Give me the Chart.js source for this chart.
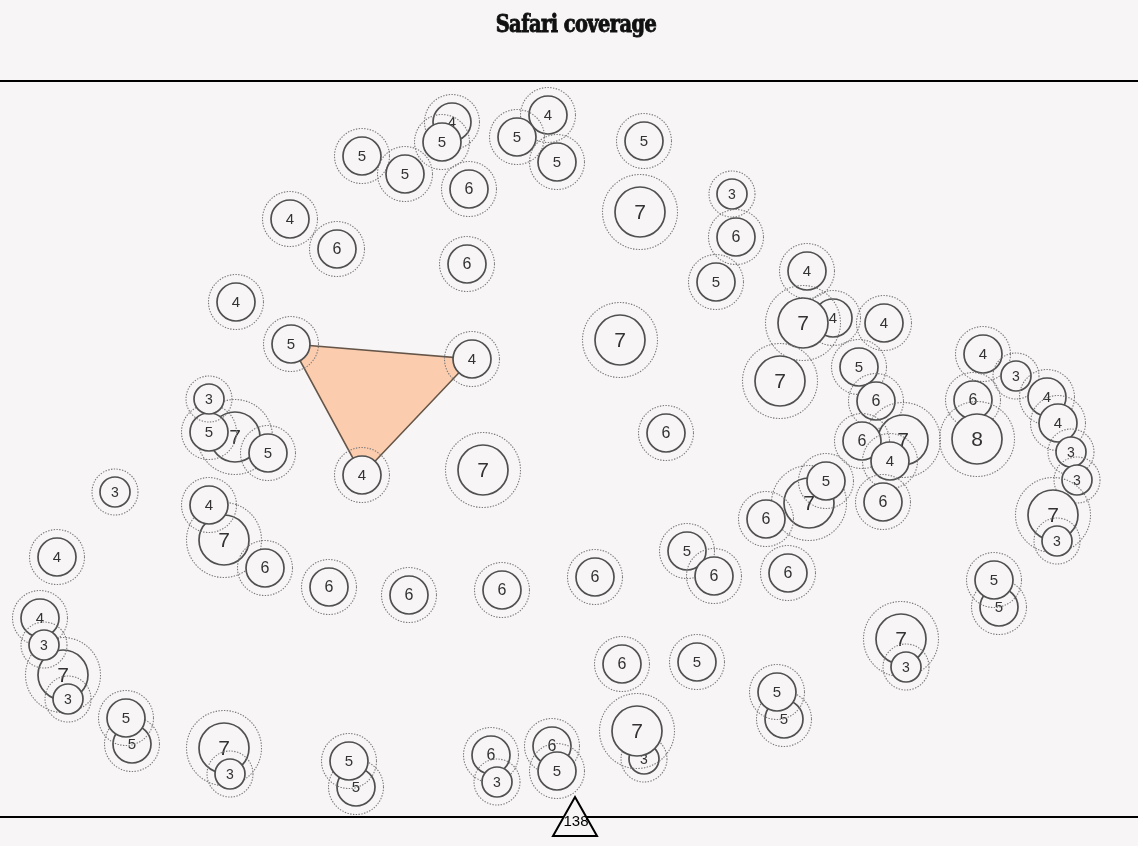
<!DOCTYPE html>
<html><head><meta charset="utf-8">
<script src="https://cdn.jsdelivr.net/npm/chart.js@4.4.0/dist/chart.umd.min.js"></script>
<style>
html,body{margin:0;padding:0;background:#f7f5f5;}
#wrap{position:relative;width:1138px;height:846px;overflow:hidden;}
#title{position:absolute;top:9px;left:576px;white-space:nowrap;transform:translateX(-50%) scaleX(0.86);transform-origin:center;font-family:"DejaVu Serif";font-weight:900;font-stretch:condensed;font-size:25px;color:#111;letter-spacing:-0.6px;-webkit-text-stroke:0.9px #111;}
canvas{position:absolute;left:0;top:0;}
</style></head>
<body>
<div id="wrap"><canvas id="c" width="1138" height="846"></canvas><div id="title">Safari coverage</div></div>
<script>
// node layout positions and node values, in draw order
const nodeX = [452,442,362,405,469,548,517,557,644,640,732,736,716,290,337,467,236,291,472,362,483,620,666,
  807,833,803,884,780,859,876,903,862,890,883,809,826,766,
  983,1016,973,977,1047,1058,1071,1077,1053,1057,999,994,901,906,
  788,687,714,595,502,409,329,622,697,784,777,644,637,552,557,491,497,356,349,
  224,230,132,126,40,63,44,68,57,115,224,209,265,235,209,268,209];
const nodeY = [122,142,156,174,189,115,137,162,141,212,194,237,282,219,249,264,302,344,359,475,470,340,433,
  271,318,323,323,381,367,401,440,441,461,502,503,481,519,
  354,376,400,439,397,423,452,480,515,541,607,580,639,667,
  573,551,576,577,590,595,587,664,662,719,692,759,731,746,771,755,782,787,761,
  748,774,744,718,618,675,645,699,557,492,540,505,568,437,432,453,399];
const nodeValue = [4,5,5,5,6,4,5,5,5,7,3,6,5,4,6,6,4,5,4,4,7,7,6,
  4,4,7,4,7,5,6,7,6,4,6,7,5,6,
  4,3,6,8,4,4,3,3,7,3,5,5,7,3,
  6,5,6,6,6,6,6,6,5,5,5,3,7,6,5,6,3,5,5,
  7,3,5,5,4,7,3,3,4,3,7,4,6,7,5,5,3];
const triangleNodes = [17, 18, 19];
const markerLabel = '138';

const BG = '#f7f5f5';
function radiusFor(v){ return v <= 3 ? 15 : (v <= 6 ? 19 : 25); }
function ringFor(v){ return v <= 3 ? 23 : (v <= 6 ? 27.5 : 37.5); }
function fontFor(v){ return v <= 3 ? 14 : (v <= 5 ? 15 : (v === 6 ? 16 : 21)); }

const points = nodeX.map((x,i)=>({x:x, y:nodeY[i], v:nodeValue[i]}));

const nodePlugin = {
  id:'nodes',
  beforeDraw(chart){
    const ctx = chart.ctx, ys = chart.scales.y;
    ctx.save();
    ctx.strokeStyle = '#000'; ctx.lineWidth = 2;
    [81, 817].forEach(v=>{
      const py = ys.getPixelForValue(v);
      ctx.beginPath(); ctx.moveTo(0, py); ctx.lineTo(chart.width, py); ctx.stroke();
    });
    ctx.restore();
  },
  beforeDatasetDraw(){ return false; },
  afterDatasetsDraw(chart){
    const ctx = chart.ctx;
    const meta = chart.getDatasetMeta(0);
    const els = meta.data;
    // triangle
    ctx.save();
    ctx.beginPath();
    triangleNodes.forEach((n,k)=>{ const e = els[n]; if(k===0) ctx.moveTo(e.x,e.y); else ctx.lineTo(e.x,e.y); });
    ctx.closePath();
    ctx.fillStyle = '#fbcdae'; ctx.fill();
    ctx.strokeStyle = '#655548'; ctx.lineWidth = 1.6; ctx.stroke();
    ctx.restore();
    // nodes in order
    els.forEach((e,i)=>{
      const v = nodeValue[i];
      e.draw(ctx, chart.chartArea);
      ctx.save();
      ctx.setLineDash([1.4,1.4]);
      ctx.strokeStyle = '#7a7a7a'; ctx.lineWidth = 1.1;
      ctx.beginPath(); ctx.arc(e.x, e.y, ringFor(v), 0, Math.PI*2); ctx.stroke();
      ctx.restore();
      ctx.save();
      ctx.fillStyle = '#333333';
      ctx.font = fontFor(v) + 'px "Liberation Sans", Arial, sans-serif';
      ctx.textAlign = 'center'; ctx.textBaseline = 'middle';
      ctx.fillText(String(v), e.x, e.y + 1);
      ctx.restore();
    });
    // bottom marker
    const xs = chart.scales.x, ys = chart.scales.y;
    const mx = xs.getPixelForValue(575), my = ys.getPixelForValue(817);
    ctx.save();
    ctx.beginPath();
    ctx.moveTo(mx, my - 20); ctx.lineTo(mx + 22, my + 19); ctx.lineTo(mx - 22, my + 19); ctx.closePath();
    ctx.fillStyle = BG; ctx.fill();
    ctx.strokeStyle = '#000'; ctx.lineWidth = 2; ctx.lineJoin = 'miter'; ctx.stroke();
    ctx.fillStyle = '#000'; ctx.font = '15px "Liberation Sans", Arial, sans-serif';
    ctx.textAlign = 'center'; ctx.textBaseline = 'middle';
    ctx.fillText(markerLabel, mx + 1, my + 5);
    ctx.restore();
  }
};

new Chart(document.getElementById('c'), {
  type:'scatter',
  data:{ datasets:[{
    data: points,
    pointRadius: ctx => radiusFor(ctx.raw ? ctx.raw.v : 5),
    pointBackgroundColor: BG,
    pointBorderColor: '#505050',
    pointBorderWidth: 1.7
  }]},
  options:{
    responsive:false, animation:false, events:[],
    devicePixelRatio:1,
    layout:{padding:0, autoPadding:false},
    plugins:{legend:{display:false}, title:{display:false}, tooltip:{enabled:false}},
    scales:{
      x:{type:'linear', min:0, max:1138, display:false},
      y:{type:'linear', min:0, max:846, reverse:true, display:false}
    }
  },
  plugins:[nodePlugin]
});
</script>
</body></html>
